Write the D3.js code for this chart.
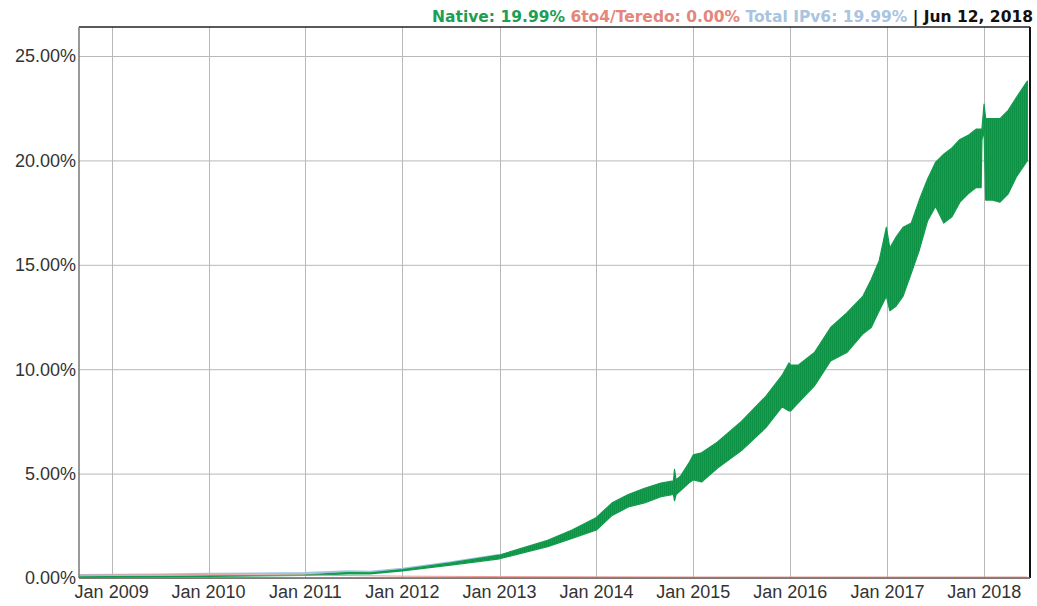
<!DOCTYPE html>
<html>
<head>
<meta charset="utf-8">
<script src="https://cdn.jsdelivr.net/npm/d3@7"></script>
<style>
body { margin: 0; background: #fff; }
svg { font-family: "Liberation Sans", Arial, sans-serif; }
</style>
</head>
<body>
<svg width="1037" height="606"></svg>
<script>
// native IPv6 band: weekday low / weekend high (%)
const nativeDates = ["2008-09-01","2009-01-01","2009-07-01","2010-01-01","2010-07-01","2011-01-01","2011-06-08","2011-09-01",
  "2012-01-01","2012-07-01","2013-01-01","2013-07-01","2013-10-01","2014-01-01","2014-03-01","2014-05-01","2014-07-01",
  "2014-09-01","2014-10-18","2014-10-22","2014-10-28","2014-11-15","2014-12-15","2015-01-01","2015-02-01","2015-04-01",
  "2015-07-01","2015-10-01","2015-12-01","2015-12-27","2016-01-03","2016-02-01","2016-04-01","2016-06-01","2016-08-01",
  "2016-10-01","2016-11-01","2016-12-01","2016-12-28","2017-01-10","2017-02-01","2017-03-01","2017-04-01","2017-05-01",
  "2017-06-01","2017-07-01","2017-08-01","2017-09-01","2017-10-01","2017-11-01","2017-12-01","2017-12-20","2017-12-23",
  "2017-12-31","2018-01-06","2018-02-01","2018-03-01","2018-04-01","2018-05-01","2018-06-12"];
const nativeLow = [0.04,0.05,0.06,0.08,0.10,0.12,0.20,0.20,
  0.34,0.62,0.92,1.50,1.90,2.30,3.00,3.40,3.60,
  3.90,4.00,3.70,4.00,4.20,4.55,4.70,4.60,5.25,
  6.10,7.20,8.20,8.00,8.00,8.40,9.20,10.40,10.80,
  11.70,12.00,12.80,13.50,12.80,13.00,13.50,14.60,15.70,
  17.10,17.80,17.00,17.30,18.00,18.40,18.70,18.70,21.00,
  21.40,18.10,18.10,18.00,18.40,19.20,19.99];
const nativeHigh = [0.06,0.07,0.08,0.10,0.12,0.15,0.26,0.25,
  0.40,0.72,1.10,1.80,2.30,2.90,3.60,4.00,4.30,
  4.55,4.65,5.20,4.70,4.90,5.50,5.90,6.00,6.50,
  7.50,8.70,9.70,10.30,10.20,10.20,10.80,12.00,12.70,
  13.50,14.30,15.20,16.80,15.80,16.30,16.80,17.00,18.10,
  19.10,19.90,20.30,20.60,21.00,21.20,21.50,21.50,21.50,
  22.70,22.00,22.00,22.00,22.40,23.00,23.80];

// total IPv6 (only visible above native in the early years)
const totalDates = ["2008-09-01","2009-01-01","2009-07-01","2010-01-01","2010-07-01","2011-01-01","2011-06-08","2011-09-01","2012-01-01","2012-07-01","2013-01-01"];
const totalValues = [0.14,0.15,0.17,0.20,0.22,0.24,0.32,0.30,0.44,0.75,1.12];

// 6to4 / Teredo
const teredoDates = ["2008-09-01","2010-01-01","2011-01-01","2012-01-01","2013-01-01","2014-01-01","2015-01-01","2018-06-12"];
const teredoValues = [0.09,0.11,0.09,0.04,0.02,0.01,0.00,0.00];

const yTicks = [0, 5, 10, 15, 20, 25];
const xTickYears = [2009, 2010, 2011, 2012, 2013, 2014, 2015, 2016, 2017, 2018];

const legendParts = [
  { text: "Native: 19.99% ", color: "#1b9e55" },
  { text: "6to4/Teredo: 0.00% ", color: "#e4867c" },
  { text: "Total IPv6: 19.99% ", color: "#a9c4e0" },
  { text: "| Jun 12, 2018", color: "#111" }
];

const parse = d3.timeParse("%Y-%m-%d");
const svg = d3.select("svg");
const plotLeft = 79, plotRight = 1030, plotTop = 27, plotBottom = 578;

const x = d3.scaleTime()
  .domain([parse("2008-08-31"), parse("2018-06-22")])
  .range([plotLeft, plotRight]);
const y = d3.scaleLinear()
  .domain([0, 26.39])
  .range([plotBottom, plotTop]);

// weekly striping inside the band
const pat = svg.append("defs").append("pattern")
  .attr("id", "weekly")
  .attr("patternUnits", "userSpaceOnUse")
  .attr("width", 2).attr("height", 10);
pat.append("rect").attr("width", 2).attr("height", 10).attr("fill", "#13a04f");
pat.append("rect").attr("width", 0.7).attr("height", 10).attr("fill", "#0a8b3f");

// grid
const grid = svg.append("g");
grid.selectAll(".hg").data(yTicks).enter().append("line")
  .attr("x1", plotLeft).attr("x2", plotRight)
  .attr("y1", d => y(d) + 0.5).attr("y2", d => y(d) + 0.5)
  .attr("stroke", "#b8b8b8").attr("stroke-width", 1);
grid.selectAll(".vg").data(xTickYears).enter().append("line")
  .attr("x1", d => Math.round(x(new Date(d, 0, 1))) + 0.5)
  .attr("x2", d => Math.round(x(new Date(d, 0, 1))) + 0.5)
  .attr("y1", plotTop).attr("y2", plotBottom)
  .attr("stroke", "#b8b8b8").attr("stroke-width", 1);

// total line
const totalData = totalDates.map((d, i) => ({ date: parse(d), v: totalValues[i] }));
svg.append("path")
  .datum(totalData)
  .attr("fill", "none")
  .attr("stroke", "#9fc3e3")
  .attr("stroke-width", 2)
  .attr("d", d3.line().x(d => x(d.date)).y(d => y(d.v)));

// native band
const nativeData = nativeDates.map((d, i) => ({ date: parse(d), lo: nativeLow[i], hi: nativeHigh[i] }));
svg.append("path")
  .datum(nativeData)
  .attr("fill", "url(#weekly)")
  .attr("stroke", "#119c4d")
  .attr("stroke-width", 1.2)
  .attr("stroke-linejoin", "round")
  .attr("d", d3.area().x(d => x(d.date)).y0(d => y(d.lo)).y1(d => y(d.hi)));

// 6to4 line
const teredoData = teredoDates.map((d, i) => ({ date: parse(d), v: teredoValues[i] }));
svg.append("path")
  .datum(teredoData)
  .attr("fill", "none")
  .attr("stroke", "#eb9a92")
  .attr("stroke-width", 1)
  .attr("d", d3.line().x(d => x(d.date)).y(d => y(d.v) - 1));

// frame
svg.append("line").attr("x1", plotLeft).attr("x2", plotRight).attr("y1", plotTop).attr("y2", plotTop)
  .attr("stroke", "#222").attr("stroke-width", 1.5);
svg.append("line").attr("x1", plotRight).attr("x2", plotRight).attr("y1", plotTop).attr("y2", plotBottom)
  .attr("stroke", "#111").attr("stroke-width", 2);
svg.append("line").attr("x1", plotLeft).attr("x2", plotLeft).attr("y1", plotTop).attr("y2", plotBottom)
  .attr("stroke", "#777").attr("stroke-width", 1.5);
svg.append("line").attr("x1", plotLeft).attr("x2", plotRight).attr("y1", plotBottom).attr("y2", plotBottom)
  .attr("stroke", "#666").attr("stroke-width", 1.5);

// y labels
svg.append("g").selectAll("text").data(yTicks).enter().append("text")
  .attr("x", plotLeft - 3)
  .attr("y", d => y(d))
  .attr("dy", "0.35em")
  .attr("text-anchor", "end")
  .attr("font-size", "18px")
  .attr("fill", "#333")
  .text(d => d.toFixed(2) + "%");

// x labels
svg.append("g").selectAll("text").data(xTickYears).enter().append("text")
  .attr("x", d => x(new Date(d, 0, 1)))
  .attr("y", 598)
  .attr("text-anchor", "middle")
  .attr("font-size", "18px")
  .attr("fill", "#333")
  .text(d => d3.timeFormat("%b %Y")(new Date(d, 0, 1)));

// legend
const legend = svg.append("text")
  .attr("x", 1033)
  .attr("y", 22)
  .attr("text-anchor", "end")
  .attr("font-family", "'DejaVu Sans', sans-serif")
  .attr("font-size", "15.5px")
  .attr("font-weight", "bold")
  .attr("xml:space", "preserve");
legend.selectAll("tspan").data(legendParts).enter().append("tspan")
  .attr("fill", d => d.color)
  .text(d => d.text);
</script>
</body>
</html>
